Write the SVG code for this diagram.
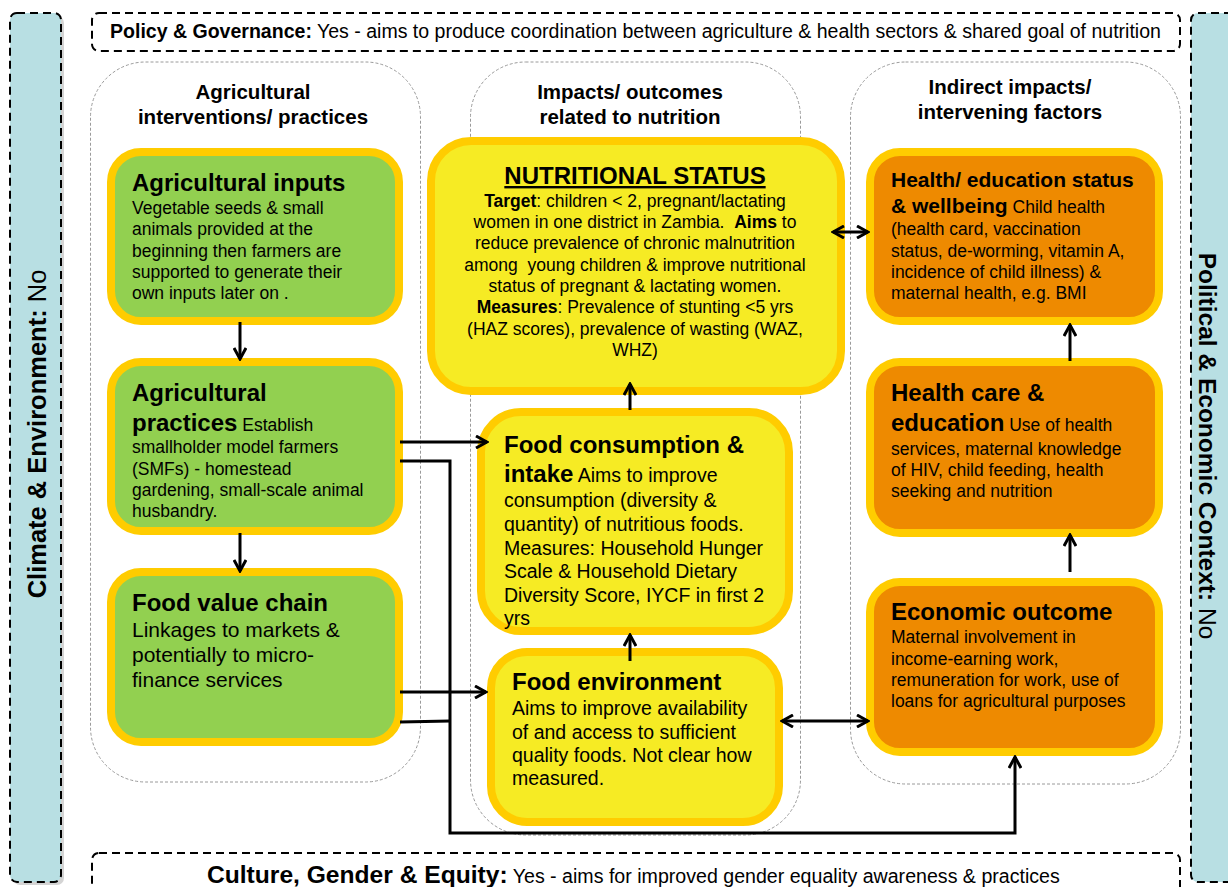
<svg xmlns="http://www.w3.org/2000/svg" width="1228" height="887" viewBox="0 0 1228 887">
<defs>
<style>
.bar{fill:#B8DFE3;stroke:#000;stroke-width:2;stroke-dasharray:8 5}
.shadow{fill:#d4d4d4}
.banner{fill:#fff;stroke:#000;stroke-width:2;stroke-dasharray:8 5}
.col{fill:#fff;stroke:#9a9a9a;stroke-width:1;stroke-dasharray:3 2}
.n{stroke:#FFCC00;stroke-width:8}
.g{fill:#92D050}
.y{fill:#F6EB24}
.o{fill:#EE8A00}
text{font-family:"Liberation Sans",Arial,Helvetica,sans-serif;fill:#000}
.h{font-weight:bold;font-size:20.5px;text-anchor:middle}
.t{font-weight:bold;font-size:24px}
.t21{font-weight:bold;font-size:21px}
.b{font-size:17.5px}
.b19{font-size:19.5px}
.b21{font-size:21px}
.bb{font-weight:bold}
.ctr{text-anchor:middle}
.conn{fill:none;stroke:#000;stroke-width:3}
</style>
<marker id="ah" viewBox="0 0 14 14" refX="12" refY="7" markerWidth="14" markerHeight="14" markerUnits="userSpaceOnUse" orient="auto-start-reverse">
<path d="M1,1 L12,7 L1,13" fill="none" stroke="#000" stroke-width="3"/>
</marker>
</defs>

<g id="climate-environment">
<rect class="shadow" x="13" y="16" width="51" height="869" rx="7"/>
<rect class="bar" x="10" y="13" width="51" height="869" rx="7"/>
<text transform="translate(46,434) rotate(-90)" class="ctr" font-size="25.5"><tspan class="bb">Climate &amp; Environment:</tspan> No</text>
</g>

<g id="political-economic">
<rect class="bar" x="1191" y="13" width="60" height="869" rx="7"/>
<text transform="translate(1199,446) rotate(90)" class="ctr" font-size="24.5"><tspan class="bb">Political &amp; Economic Context:</tspan> No</text>
</g>

<g id="policy-governance">
<rect class="banner" x="92" y="13" width="1088" height="38" rx="7"/>
<text x="110" y="38" font-size="19.55"><tspan class="bb">Policy &amp; Governance:</tspan> Yes - aims to produce coordination between agriculture &amp; health sectors &amp; shared goal of nutrition</text>
</g>

<g id="culture-gender">
<rect class="banner" x="92" y="853" width="1088" height="60" rx="7"/>
<text x="207" y="883"><tspan class="bb" font-size="24.6">Culture, Gender &amp; Equity:</tspan><tspan font-size="19.6"> Yes - aims for improved gender equality awareness &amp; practices</tspan></text>
</g>

<g id="col-agricultural">
<rect class="col" x="90.5" y="62" width="330" height="720" rx="55"/>
<text class="h" x="253" y="99">Agricultural</text>
<text class="h" x="253" y="124">interventions/ practices</text>
</g>
<g id="col-impacts">
<rect class="col" x="470.5" y="62" width="330" height="773" rx="55"/>
<text class="h" x="630" y="99">Impacts/ outcomes</text>
<text class="h" x="630" y="124">related to nutrition</text>
</g>
<g id="col-indirect">
<rect class="col" x="850.5" y="62" width="330" height="722" rx="55"/>
<text class="h" x="1010" y="94">Indirect impacts/</text>
<text class="h" x="1010" y="119">intervening factors</text>
</g>

<g id="agricultural-inputs">
<rect class="n g" x="111" y="152" width="288" height="169" rx="30"/>
<text class="t" x="132" y="191">Agricultural inputs</text>
<text class="b" x="132" y="214">Vegetable seeds &amp; small</text>
<text class="b" x="132" y="235">animals provided at the</text>
<text class="b" x="132" y="256.5">beginning then farmers are</text>
<text class="b" x="132" y="277.5">supported to generate their</text>
<text class="b" x="132" y="299">own inputs later on .</text>
</g>

<g id="agricultural-practices">
<rect class="n g" x="111" y="362" width="288" height="169" rx="30"/>
<text class="t" x="132" y="401">Agricultural</text>
<text x="132" y="431"><tspan class="t">practices</tspan><tspan class="b"> Establish</tspan></text>
<text class="b" x="132" y="453">smallholder model farmers</text>
<text class="b" x="132" y="474.5">(SMFs) - homestead</text>
<text class="b" x="132" y="496">gardening, small-scale animal</text>
<text class="b" x="132" y="517">husbandry.</text>
</g>

<g id="food-value-chain">
<rect class="n g" x="111" y="572" width="288" height="170" rx="30"/>
<text class="t" x="132" y="611">Food value chain</text>
<text class="b21" x="132" y="637">Linkages to markets &amp;</text>
<text class="b21" x="132" y="662">potentially to micro-</text>
<text class="b21" x="132" y="687">finance services</text>
</g>

<g id="nutritional-status">
<rect class="n y" x="431" y="141" width="410" height="250" rx="40"/>
<text class="t ctr" x="635" y="184" text-decoration="underline">NUTRITIONAL STATUS</text>
<text class="b ctr" x="635" y="206.7"><tspan class="bb">Target</tspan>: children &lt; 2, pregnant/lactating</text>
<text class="b ctr" x="635" y="228" xml:space="preserve">women in one district in Zambia.  <tspan class="bb">Aims</tspan> to</text>
<text class="b ctr" x="635" y="249.3">reduce prevalence of chronic malnutrition</text>
<text class="b ctr" x="635" y="270.7" xml:space="preserve">among  young children &amp; improve nutritional</text>
<text class="b ctr" x="635" y="292">status of pregnant &amp; lactating women.</text>
<text class="b ctr" x="635" y="313.3"><tspan class="bb">Measures</tspan>: Prevalence of stunting &lt;5 yrs</text>
<text class="b ctr" x="635" y="334.7">(HAZ scores), prevalence of wasting (WAZ,</text>
<text class="b ctr" x="635" y="356">WHZ)</text>
</g>

<g id="food-consumption">
<rect class="n y" x="481" y="412" width="308" height="219" rx="40"/>
<text class="t" x="504" y="453">Food consumption &amp;</text>
<text x="504" y="482"><tspan class="t">intake</tspan><tspan class="b19"> Aims to improve</tspan></text>
<text class="b19" x="504" y="507">consumption (diversity &amp;</text>
<text class="b19" x="504" y="531">quantity) of nutritious foods.</text>
<text class="b19" x="504" y="554.5">Measures: Household Hunger</text>
<text class="b19" x="504" y="578">Scale &amp; Household Dietary</text>
<text class="b19" x="504" y="602">Diversity Score, IYCF in first 2</text>
<text class="b19" x="504" y="625">yrs</text>
</g>

<g id="food-environment">
<rect class="n y" x="491" y="652" width="288" height="170" rx="36"/>
<text class="t" x="512" y="690">Food environment</text>
<text class="b19" x="512" y="715">Aims to improve availability</text>
<text class="b19" x="512" y="738.5">of and access to sufficient</text>
<text class="b19" x="512" y="762">quality foods. Not clear how</text>
<text class="b19" x="512" y="785">measured.</text>
</g>

<g id="health-status">
<rect class="n o" x="870" y="152" width="289" height="169" rx="30"/>
<text class="t21" x="891" y="187">Health/ education status</text>
<text x="891" y="212.7"><tspan class="t21">&amp; wellbeing</tspan><tspan class="b"> Child health</tspan></text>
<text class="b" x="891" y="235">(health card, vaccination</text>
<text class="b" x="891" y="256.5">status, de-worming, vitamin A,</text>
<text class="b" x="891" y="278">incidence of child illness) &amp;</text>
<text class="b" x="891" y="299">maternal health, e.g. BMI</text>
</g>

<g id="health-care">
<rect class="n o" x="870" y="362" width="289" height="171" rx="30"/>
<text class="t" x="891" y="401">Health care &amp;</text>
<text x="891" y="431"><tspan class="t">education</tspan><tspan class="b"> Use of health</tspan></text>
<text class="b" x="891" y="454.5">services, maternal knowledge</text>
<text class="b" x="891" y="475.5">of HIV, child feeding, health</text>
<text class="b" x="891" y="497">seeking and nutrition</text>
</g>

<g id="economic-outcome">
<rect class="n o" x="870" y="582" width="289" height="170" rx="30"/>
<text class="t" x="891" y="619.5">Economic outcome</text>
<text class="b" x="891" y="643">Maternal involvement in</text>
<text class="b" x="891" y="664.5">income-earning work,</text>
<text class="b" x="891" y="686">remuneration for work, use of</text>
<text class="b" x="891" y="707">loans for agricultural purposes</text>
</g>

<g id="connectors">
<path class="conn" d="M240,322 V359" marker-end="url(#ah)"/>
<path class="conn" d="M240,533 V571" marker-end="url(#ah)"/>
<path class="conn" d="M400,442 H487" marker-end="url(#ah)"/>
<path class="conn" d="M400,461 H450 V833 H1015 V757" marker-end="url(#ah)"/>
<path class="conn" d="M400,692 H486" marker-end="url(#ah)"/>
<path class="conn" d="M400,722 L450,721"/>
<path class="conn" d="M630,661 V635" marker-end="url(#ah)"/>
<path class="conn" d="M630,410 V384" marker-end="url(#ah)"/>
<path class="conn" d="M833,232 H868" marker-start="url(#ah)" marker-end="url(#ah)"/>
<path class="conn" d="M782,721 H868" marker-start="url(#ah)" marker-end="url(#ah)"/>
<path class="conn" d="M1070,361 V325" marker-end="url(#ah)"/>
<path class="conn" d="M1070,572 V535" marker-end="url(#ah)"/>
</g>
</svg>
